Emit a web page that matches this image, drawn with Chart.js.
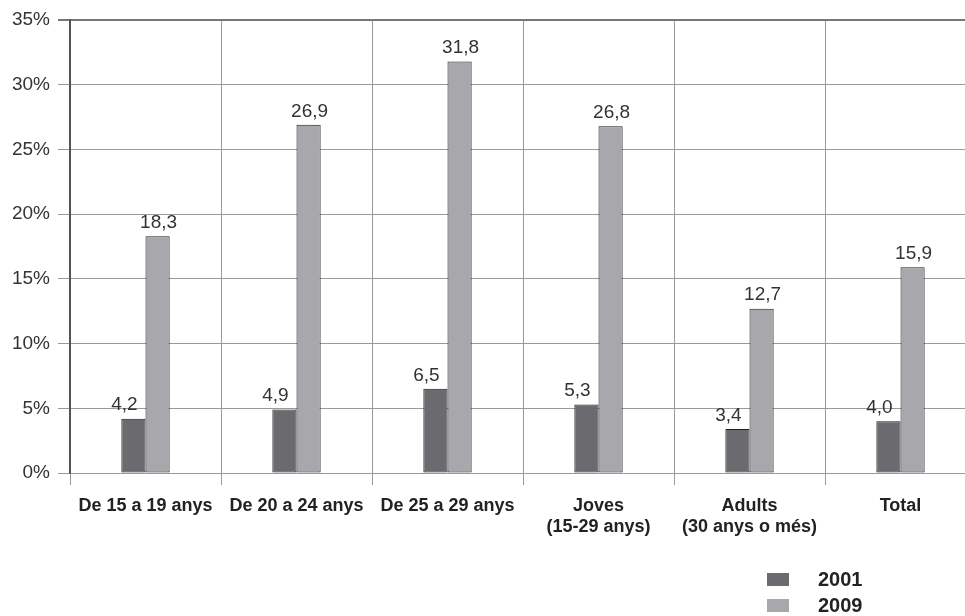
<!DOCTYPE html>
<html>
<head>
<meta charset="utf-8">
<script src="https://cdn.jsdelivr.net/npm/chart.js@4"></script>
<style>
  body { margin: 0; overflow: hidden; background: #fff; font-family: "Liberation Sans", Arial, sans-serif; }
  #wrap { position: relative; width: 980px; height: 616px; }
  #legend { position: absolute; left: 767px; top: 566px; }
  .item { display: flex; align-items: center; height: 26px; font-weight: bold; font-size: 20px; color: #222; }
  .box { width: 22px; height: 13px; margin-right: 29px; }
</style>
</head>
<body>
<div id="wrap">
  <canvas id="chart" width="980" height="616"></canvas>
  <div id="legend"></div>
</div>
<script>
'use strict';

const categories = [
    'De 15 a 19 anys',
    'De 20 a 24 anys',
    'De 25 a 29 anys',
    ['Joves', '(15-29 anys)'],
    ['Adults', '(30 anys o més)'],
    'Total'
];
const values2001 = [4.2, 4.9, 6.5, 5.3, 3.4, 4.0];
const values2009 = [18.3, 26.9, 31.8, 26.8, 12.7, 15.9];
const yTicks = [0, 5, 10, 15, 20, 25, 30, 35];

// value labels above the bars, comma as decimal mark
const barLabels = {
    id: 'barLabels',
    afterDatasetsDraw(chart) {
        const ctx = chart.ctx;
        ctx.save();
        ctx.font = '19px "Liberation Sans", Arial, sans-serif';
        ctx.fillStyle = '#333';
        ctx.textAlign = 'center';
        ctx.textBaseline = 'bottom';
        chart.data.datasets.forEach(function (ds, i) {
            chart.getDatasetMeta(i).data.forEach(function (bar, j) {
                const txt = ds.data[j].toFixed(1).replace('.', ',');
                ctx.fillText(txt, bar.x + ds.labelShift, bar.y - 4);
            });
        });
        ctx.restore();
    }
};

const chart = new Chart(document.getElementById('chart'), {
    type: 'bar',
    data: {
        labels: categories,
        datasets: [
            {
                label: '2001',
                data: values2001,
                backgroundColor: '#6b6b6f',
                borderColor: '#1e1e1e',
                borderWidth: 1,
                borderSkipped: false,
                labelShift: -9,
                categoryPercentage: 0.32,
                barPercentage: 1
            },
            {
                label: '2009',
                data: values2009,
                backgroundColor: '#a8a8ac',
                borderColor: '#1e1e1e',
                borderWidth: 1,
                borderSkipped: false,
                labelShift: 1,
                categoryPercentage: 0.32,
                barPercentage: 1
            }
        ]
    },
    options: {
        responsive: false,
        animation: false,
        layout: { padding: { top: 20, right: 4, left: 0, bottom: 0 } },
        plugins: {
            legend: { display: false },
            tooltip: { enabled: false }
        },
        scales: {
            x: {
                offset: true,
                grid: {
                    offset: true,
                    color: '#9a9a9a',
                    lineWidth: 1,
                    tickLength: 12
                },
                border: { display: true, color: '#9a9a9a', width: 1 },
                ticks: {
                    autoSkip: false,
                    maxRotation: 0,
                    padding: 10,
                    color: '#222',
                    font: { family: '"Liberation Sans", Arial, sans-serif', size: 18, weight: 'bold', lineHeight: 1.2 }
                },
                afterFit: function (scale) { scale.height = 143; }
            },
            y: {
                min: 0,
                max: 35,
                afterBuildTicks: function (scale) {
                    scale.ticks = yTicks.map(function (v) { return { value: v }; });
                },
                grid: {
                    color: function (c) { return c.tick && c.tick.value === 35 ? '#777' : '#9a9a9a'; },
                    lineWidth: function (c) { return c.tick && c.tick.value === 35 ? 2 : 1; },
                    tickLength: 12
                },
                border: { display: true, color: '#555', width: 2 },
                ticks: {
                    padding: 8,
                    color: '#333',
                    font: { family: '"Liberation Sans", Arial, sans-serif', size: 19 },
                    callback: function (v) { return v + '%'; }
                },
                afterFit: function (scale) { scale.width = 70; }
            }
        }
    },
    plugins: [barLabels]
});

// vertical legend at the bottom right
const legend = document.getElementById('legend');
chart.data.datasets.forEach(function (ds) {
    const item = document.createElement('div');
    item.className = 'item';
    const box = document.createElement('span');
    box.className = 'box';
    box.style.background = ds.backgroundColor;
    item.appendChild(box);
    item.appendChild(document.createTextNode(ds.label));
    legend.appendChild(item);
});
</script>
</body>
</html>
